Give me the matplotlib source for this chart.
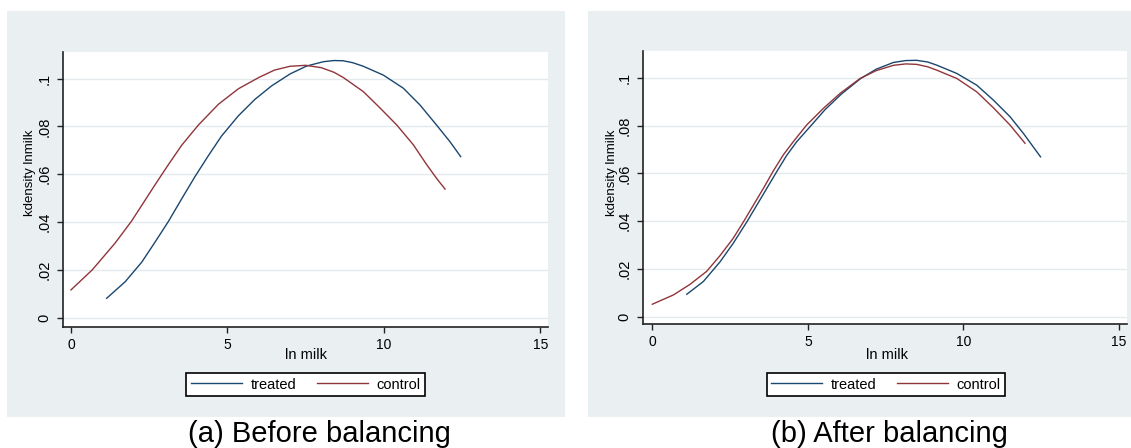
import matplotlib
matplotlib.use("Agg")
import matplotlib.pyplot as plt
from matplotlib.patches import Rectangle

plt.rcParams["font.family"] = ["Liberation Sans", "DejaVu Sans"]

# values (kdensity of ln milk)
a_treated_x = [1.14, 1.73, 2.26, 2.68, 3.11, 3.54, 3.96, 4.39, 4.81, 5.35, 5.88, 6.41, 7.0,
               7.53, 8.06, 8.40, 8.70, 9.0, 9.34, 9.98, 10.62, 11.15, 11.68, 12.11, 12.45]
a_treated_y = [0.0081, 0.0150, 0.0232, 0.0315, 0.0402, 0.0498, 0.0590, 0.0678, 0.0760, 0.0845,
               0.0914, 0.0970, 0.1020, 0.1053, 0.1071, 0.1076, 0.1075, 0.1067, 0.1052, 0.1015,
               0.0960, 0.0890, 0.0806, 0.0736, 0.0674]
a_control_x = [0.0, 0.68, 1.41, 1.94, 2.36, 2.68, 3.11, 3.54, 4.07, 4.71, 5.35, 6.0, 6.5, 7.0,
               7.5, 8.0, 8.4, 8.70, 9.34, 9.87, 10.41, 10.94, 11.36, 11.68, 11.95]
a_control_y = [0.0116, 0.0200, 0.0312, 0.0405, 0.0490, 0.0555, 0.0640, 0.0722, 0.0806, 0.0893,
               0.0958, 0.1005, 0.1036, 0.1052, 0.1056, 0.1046, 0.1027, 0.1005, 0.0946, 0.0878,
               0.0806, 0.0723, 0.0641, 0.0583, 0.0538]

b_treated_x = [1.11, 1.64, 2.18, 2.60, 3.04, 3.36, 3.68, 4.00, 4.32, 4.64, 5.07, 5.55, 6.08,
               6.70, 7.20, 7.75, 8.15, 8.50, 8.85, 9.14, 9.79, 10.43, 10.96, 11.50, 11.93, 12.48]
b_treated_y = [0.0094, 0.0147, 0.0230, 0.0307, 0.0397, 0.0467, 0.0537, 0.0607, 0.0675, 0.0732,
               0.0795, 0.0866, 0.0932, 0.0997, 0.1036, 0.1064, 0.1072, 0.1073, 0.1066, 0.1053,
               0.1018, 0.0969, 0.0907, 0.0837, 0.0767, 0.0669]
b_control_x = [0.0, 0.68, 1.21, 1.75, 2.18, 2.60, 2.93, 3.25, 3.57, 3.89, 4.21, 4.53, 4.96,
               5.50, 6.04, 6.68, 7.20, 7.75, 8.15, 8.50, 8.85, 9.14, 9.79, 10.43, 10.96, 11.50,
               11.98]
b_control_y = [0.0052, 0.0091, 0.0135, 0.0190, 0.0256, 0.0328, 0.0397, 0.0467, 0.0537, 0.0610,
               0.0677, 0.0732, 0.0802, 0.0872, 0.0935, 0.0997, 0.1030, 0.1052, 0.1058, 0.1056,
               0.1046, 0.1032, 0.0997, 0.0941, 0.0875, 0.0802, 0.0726]

xticks = [0, 5, 10, 15]
yticks = [0, 0.02, 0.04, 0.06, 0.08, 0.1]
ytick_labels = ["0", ".02", ".04", ".06", ".08", ".1"]
series_names = ["treated", "control"]
captions = ["(a) Before balancing", "(b) After balancing"]

navy = "#1a476f"
maroon = "#90353b"
bg = "#eaf0f2"

W, H = 1131, 448
fig = plt.figure(figsize=(W / 100, H / 100), dpi=100)
fig.patch.set_facecolor("white")


def px(x, y):
    return x / W, 1 - y / H


# grey graph regions, kept under the axes
for x0, x1 in [(6.7, 565), (588, 1131)]:
    fig.patches.append(Rectangle(px(x0, 416.5), (x1 - x0) / W, 405 / H,
                                 transform=fig.transFigure, facecolor=bg,
                                 edgecolor="none", zorder=-5))

panels = [
    dict(box=(62.7, 51.7, 548.3, 326.7), xlim=(-0.265, 15.25), ylim=(-0.0038, 0.1113),
         tx=a_treated_x, ty=a_treated_y, cx=a_control_x, cy=a_control_y,
         ylab_x=29.5, cap_x=319.5, leg_x=305.7, xlab_x=306),
    dict(box=(643.3, 51.0, 1127, 324.3), xlim=(-0.29, 15.26), ylim=(-0.0032, 0.1112),
         tx=b_treated_x, ty=b_treated_y, cx=b_control_x, cy=b_control_y,
         ylab_x=611.7, cap_x=889, leg_x=886, xlab_x=887.5),
]

for i, p in enumerate(panels):
    x0, y0, x1, y1 = p["box"]
    l, b = px(x0, y1)
    ax = fig.add_axes([l, b, (x1 - x0) / W, (y1 - y0) / H])
    ax.set_zorder(1)
    ax.set_facecolor("white")
    ax.set_xlim(*p["xlim"])
    ax.set_ylim(*p["ylim"])
    for yv in yticks:
        ax.axhline(yv, color="#e4eaec", lw=1.0, zorder=1)
    l1, = ax.plot(p["tx"], p["ty"], color=navy, lw=1.0, zorder=3)
    l2, = ax.plot(p["cx"], p["cy"], color=maroon, lw=1.0, zorder=3)
    for s in ["top", "right"]:
        ax.spines[s].set_visible(False)
    for s in ["left", "bottom"]:
        ax.spines[s].set_color("#222222")
        ax.spines[s].set_linewidth(1.2)
    ax.set_xticks(xticks)
    ax.set_xticklabels([str(v) for v in xticks])
    ax.set_yticks(yticks)
    ax.set_yticklabels(ytick_labels, rotation=90, va="center")
    ax.tick_params(axis="x", length=4, width=1, pad=4, labelsize=10, color="#222222")
    ax.tick_params(axis="y", length=4.3, width=1, pad=4, labelsize=10.5, color="#222222")

    fig.text(*px(p["ylab_x"], 173), "kdensity lnmilk", rotation=90, ha="center",
             va="center", fontsize=9.5, zorder=5)
    fig.text(*px(p["xlab_x"], 359), "ln milk", ha="center", va="baseline", fontsize=10.5)
    fig.text(*px(p["cap_x"], 441.5), captions[i], ha="center", va="baseline", fontsize=21)

    leg = ax.legend([l1, l2], series_names, loc="center", ncol=2,
                    bbox_to_anchor=px(p["leg_x"], 384.5), bbox_transform=fig.transFigure,
                    fontsize=10.5, handlelength=3.5, handletextpad=0.6, columnspacing=1.4,
                    borderpad=0.3, borderaxespad=0, fancybox=False, framealpha=1,
                    edgecolor="black")
    leg.get_frame().set_linewidth(1.2)

fig.savefig("out.png", dpi=100)
